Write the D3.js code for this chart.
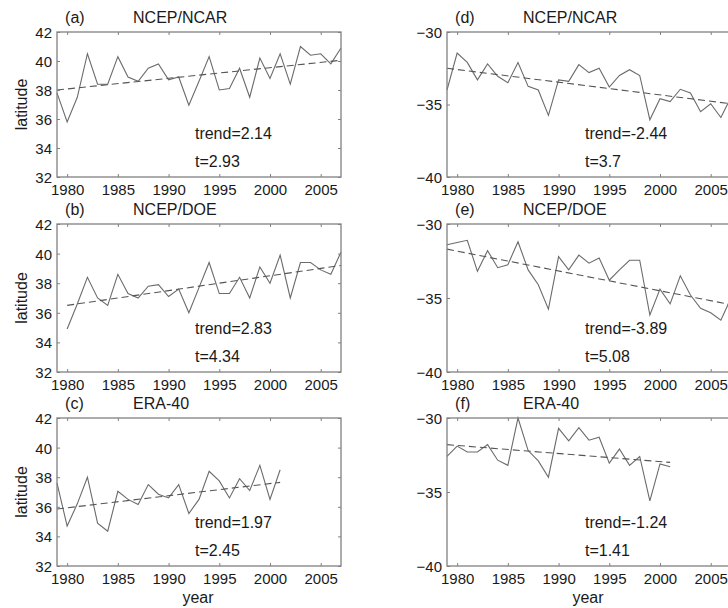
<!DOCTYPE html>
<html>
<head>
<meta charset="utf-8">
<script src="https://cdn.jsdelivr.net/npm/d3@7"></script>
<style>
  body { margin: 0; background: #fff; }
  svg { display: block; font-family: "Liberation Sans", Arial, sans-serif; }
  .tick text { font-size: 15px; fill: #1a1a1a; }
  .lbl { font-size: 16px; fill: #1a1a1a; }
</style>
</head>
<body>
<div id="chart"></div>
<script>
// year axis ticks and y ticks
var yearTicks = [1980, 1985, 1990, 1995, 2000, 2005];
var nhTicks = [32, 34, 36, 38, 40, 42];
var shTicks = [-40, -35, -30];

// northern hemisphere (left column)
var ncarNH = [37.8, 35.8, 37.5, 40.5, 38.4, 38.4, 40.3, 38.9, 38.6, 39.5, 39.8, 38.7, 38.9, 36.95, 38.6,
  40.3, 38.0, 38.1, 39.5, 37.5, 40.2, 38.8, 40.5, 38.4, 41.0, 40.4, 40.5, 39.8, 40.9];          // 1979-2007
var doeNH = [34.9, 36.6, 38.4, 37.0, 36.5, 38.6, 37.3, 37.0, 37.8, 37.9, 37.1, 37.6, 36.0, 37.7,
  39.4, 37.3, 37.3, 38.4, 37.0, 39.1, 38.0, 39.9, 37.0, 39.4, 39.4, 38.9, 38.6, 40.1];          // 1980-2007
var eraNH = [37.6, 34.7, 36.2, 38.0, 34.9, 34.35, 37.05, 36.5, 36.15, 37.5, 36.85, 36.6, 37.5, 35.55,
  36.5, 38.4, 37.75, 36.6, 37.9, 37.1, 38.8, 36.5, 38.5];                                       // 1979-2001

// southern hemisphere (right column)
var ncarSH = [-34.0, -31.45, -32.1, -33.3, -32.2, -33.05, -33.5, -32.1, -33.75, -34.0, -35.75, -33.3, -33.4,
  -32.25, -32.8, -32.5, -33.8, -33.0, -32.6, -33.0, -36.05, -34.6, -34.8, -33.95, -34.2, -35.5, -34.95, -35.9, -34.5];
var doeSH = [-31.4, -31.25, -31.1, -33.2, -31.8, -32.95, -32.75, -31.2, -33.1, -34.1, -35.75, -32.2, -33.1,
  -32.1, -32.65, -32.3, -33.8, -33.1, -32.45, -32.45, -36.15, -34.4, -35.4, -33.5, -34.8, -35.7, -36.0, -36.5, -35.0];
var eraSH = [-32.6, -31.9, -32.3, -32.3, -31.8, -32.85, -33.2, -30.0, -32.2, -32.9, -34.0, -30.7, -31.55,
  -30.65, -31.5, -31.3, -33.05, -32.1, -33.2, -32.6, -35.6, -33.1, -33.3];

// linear trend ends [start, end]
var trendNcarNH = [38.0, 40.05];
var trendDoeNH = [36.5, 39.2];
var trendEraNH = [35.85, 37.65];
var trendNcarSH = [-32.5, -34.95];
var trendDoeSH = [-31.7, -35.45];
var trendEraSH = [-31.8, -33.0];

var panelTags = ['(a)', '(b)', '(c)', '(d)', '(e)', '(f)'];
var panelNames = ['NCEP/NCAR', 'NCEP/DOE', 'ERA-40', 'NCEP/NCAR', 'NCEP/DOE', 'ERA-40'];
var trendText = ['trend=2.14', 'trend=2.83', 'trend=1.97', 'trend=-2.44', 'trend=-3.89', 'trend=-1.24'];
var tText = ['t=2.93', 't=4.34', 't=2.45', 't=3.7', 't=5.08', 't=1.41'];

var width = 728, height = 608;

var svg = d3.select('#chart').append('svg')
  .attr('width', width)
  .attr('height', height);

// column x ranges, row y ranges
var cols = [[57, 341], [447, 731]];
var rows = [[32, 177], [224, 372], [418, 566]];

var panels = [
  {col: 0, row: 0, data: ncarNH, start: 1979, trend: trendNcarNH, dom: [32, 42], ticks: nhTicks},
  {col: 0, row: 1, data: doeNH, start: 1980, trend: trendDoeNH, dom: [32, 42], ticks: nhTicks},
  {col: 0, row: 2, data: eraNH, start: 1979, trend: trendEraNH, dom: [32, 42], ticks: nhTicks},
  {col: 1, row: 0, data: ncarSH, start: 1979, trend: trendNcarSH, dom: [-40, -30], ticks: shTicks},
  {col: 1, row: 1, data: doeSH, start: 1979, trend: trendDoeSH, dom: [-40, -30], ticks: shTicks},
  {col: 1, row: 2, data: eraSH, start: 1979, trend: trendEraSH, dom: [-40, -30], ticks: shTicks}
];

var frameColor = '#808080';

panels.forEach(function(p, i) {
  var xr = cols[p.col], yr = rows[p.row];
  var x = d3.scaleLinear().domain([1979, 2007]).range(xr);
  var y = d3.scaleLinear().domain(p.dom).range([yr[1], yr[0]]);
  var g = svg.append('g');

  // data line
  var line = d3.line()
    .x(function(d, k) { return x(p.start + k); })
    .y(function(d) { return y(d); });
  g.append('path')
    .datum(p.data)
    .attr('d', line)
    .attr('fill', 'none')
    .attr('stroke', '#6b6b6b')
    .attr('stroke-width', 1.1);

  // trend line, dashed
  var lastYear = p.start + p.data.length - 1;
  g.append('line')
    .attr('x1', x(p.start)).attr('y1', y(p.trend[0]))
    .attr('x2', x(lastYear)).attr('y2', y(p.trend[1]))
    .attr('stroke', '#555')
    .attr('stroke-width', 1.1)
    .attr('stroke-dasharray', '7,4');

  // axes, matlab style box with inward ticks
  var bottom = g.append('g').attr('transform', 'translate(0,' + yr[1] + ')')
    .call(d3.axisBottom(x).tickValues(yearTicks).tickFormat(d3.format('d')).tickSizeInner(-3).tickSizeOuter(0).tickPadding(7));
  var top = g.append('g').attr('transform', 'translate(0,' + yr[0] + ')')
    .call(d3.axisTop(x).tickValues(yearTicks).tickFormat('').tickSizeInner(-3).tickSizeOuter(0));
  var left = g.append('g').attr('transform', 'translate(' + xr[0] + ',0)')
    .call(d3.axisLeft(y).tickValues(p.ticks).tickFormat(d3.format('d')).tickSizeInner(-3).tickSizeOuter(0).tickPadding(5));
  var right = g.append('g').attr('transform', 'translate(' + xr[1] + ',0)')
    .call(d3.axisRight(y).tickValues(p.ticks).tickFormat('').tickSizeInner(-3).tickSizeOuter(0));

  [bottom, top, left, right].forEach(function(a) {
    a.selectAll('.domain').remove();
    a.selectAll('.tick line').attr('stroke', frameColor);
    a.selectAll('text').attr('font-family', null).attr('font-size', null);
  });
  left.selectAll('text').attr('dy', '0.36em');

  g.append('rect')
    .attr('x', xr[0]).attr('y', yr[0])
    .attr('width', xr[1] - xr[0]).attr('height', yr[1] - yr[0])
    .attr('fill', 'none')
    .attr('stroke', frameColor)
    .attr('stroke-width', 1.3);

  // panel labels
  g.append('text').attr('class', 'lbl')
    .attr('x', x(1979.8)).attr('y', yr[0] - 9)
    .text(panelTags[i]);
  g.append('text').attr('class', 'lbl')
    .attr('x', x(1986.5)).attr('y', yr[0] - 9)
    .text(panelNames[i]);

  var h = yr[1] - yr[0];
  g.append('text').attr('class', 'lbl')
    .attr('x', x(1992.6)).attr('y', yr[0] + h * 0.74)
    .text(trendText[i]);
  g.append('text').attr('class', 'lbl')
    .attr('x', x(1992.6)).attr('y', yr[0] + h * 0.93)
    .text(tText[i]);

  if (p.col == 0) {
    g.append('text').attr('class', 'lbl')
      .attr('text-anchor', 'middle')
      .attr('transform', 'translate(27,' + ((yr[0] + yr[1]) / 2) + ') rotate(-90)')
      .text('latitude');
  }
  if (p.row == 2) {
    g.append('text').attr('class', 'lbl')
      .attr('text-anchor', 'middle')
      .attr('x', (xr[0] + xr[1]) / 2 - 1).attr('y', 603)
      .text('year');
  }
});
</script>
</body>
</html>
